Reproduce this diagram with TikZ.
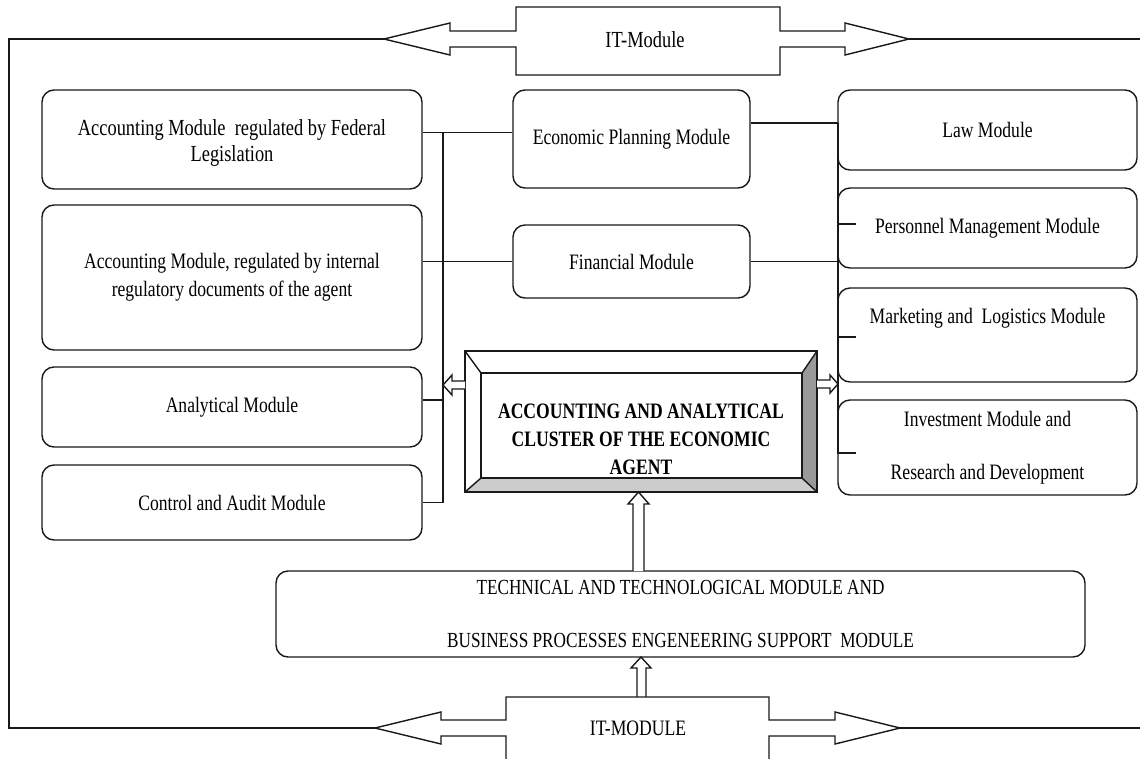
\documentclass[tikz,border=0pt]{standalone}
\usepackage{fontspec}
\setmainfont{Liberation Serif}[FakeStretch=0.8]
\begin{document}
\begin{tikzpicture}[x=1pt,y=-1pt,
  ln/.style={line width=1.4pt, draw=black!90},
  frame/.style={line width=2pt, draw=black!90},
  mod/.style={draw=black!90, line width=1.4pt, rounded corners=12pt, inner sep=0pt, align=center,
     font=\fontsize{22}{26}\selectfont},
  txt/.style={inner sep=0pt, align=center, font=\fontsize{22}{26}\selectfont},
  hollow/.style={line width=1.4pt, draw=black!90, fill=white, line join=miter}
]
\useasboundingbox (0,0) rectangle (1140,758);
\clip (0,0) rectangle (1140,758);

% ---------- left column ----------
\node[mod, minimum width=380pt, minimum height=99pt, font=\fontsize{23}{26}\selectfont] (fed) at (232,139.5)
  {\rule{0pt}{22pt}Accounting Module\ \ regulated by Federal\\Legislation};
\node[mod, minimum width=380pt, minimum height=145pt] (int) at (232,277.5)
  {Accounting Module, regulated by internal\\[2pt]regulatory documents of the agent};
\node[mod, minimum width=380pt, minimum height=80pt] (ana) at (232,407) {Analytical Module};
\node[mod, minimum width=380pt, minimum height=75pt] (ctl) at (232,502.5) {Control and Audit Module};

% ---------- middle column ----------
\node[mod, minimum width=237pt, minimum height=98pt] (plan) at (631.5,139) {Economic Planning Module};
\node[mod, minimum width=237pt, minimum height=73pt] (fin) at (631.5,261.5) {Financial Module};

% ---------- right column ----------
\node[mod, minimum width=299pt, minimum height=80pt] (law) at (987.5,130) {Law Module};
\node[mod, minimum width=299pt, minimum height=80pt] (pers) at (987.5,228) {Personnel Management Module};
\node[mod, minimum width=299pt, minimum height=94pt] (mkt) at (987.5,335) {};
\node[txt] (mkttxt) at (987.5,318) {Marketing and\ \ Logistics Module};
\node[mod, minimum width=299pt, minimum height=95pt] (inv) at (987.5,447.5)
  {Investment Module and\\[27pt]Research and Development};

% ---------- technical module ----------
\node[mod, minimum width=809pt, minimum height=86pt, font=\fontsize{21.5}{26}\selectfont] (tech) at (680.5,614)
  {TECHNICAL AND TECHNOLOGICAL MODULE AND\\[27pt]BUSINESS PROCESSES ENGENEERING SUPPORT\ \ MODULE};

% ---------- cluster (bevelled box) ----------
\node[minimum width=352pt, minimum height=141pt, inner sep=0pt] (clu) at (641,421.5) {};
\fill[black!40] (817,351) -- (817,492) -- (802,478) -- (802,373) -- cycle;
\fill[black!20] (465,492) -- (817,492) -- (802,478) -- (481,478) -- cycle;
\draw[ln] (465,351) rectangle (817,492);
\draw[ln] (481,373) rectangle (802,478);
\draw[ln] (465,351) -- (481,373) (817,351) -- (802,373)
          (465,492) -- (481,478) (817,492) -- (802,478);
\node[txt, font=\fontsize{22}{28}\selectfont\bfseries] (clutxt) at (641,439)
  {ACCOUNTING AND ANALYTICAL\\CLUSTER OF THE ECONOMIC\\AGENT};

% ---------- connectors left ----------
\coordinate (vlt) at (443,132.5);
\coordinate (vlb) at (443,502.5);
\draw[ln] (vlt) -- (vlb);
\draw[ln] ([yshift=7pt]fed.east) -- ([yshift=6.5pt]plan.west);
\draw[ln] (int.east |- fin.west) -- (fin.west);
\draw[ln] ([yshift=7pt]ana.east) -- ([yshift=7pt]ana.east -| vlt);
\draw[ln] (ctl.east) -- (ctl.east -| vlt);

% ---------- connectors right ----------
\coordinate (vrt) at (838,123);
\coordinate (vrb) at (838,453);
\draw[ln] (vrt) -- (vrb);
\draw[ln] ([yshift=16pt]plan.east) -- ([yshift=16pt]plan.east -| vrt);
\draw[ln] (fin.east) -- (fin.east -| vrt);
\draw[ln] ([yshift=4pt]pers.west) -- ++(19,0);
\draw[ln] ([yshift=-2pt]mkt.west) -- ++(19,0);
\draw[ln] ([yshift=-5.5pt]inv.west) -- ++(19,0);

% ---------- hollow arrows from cluster ----------
\draw[hollow] (465,381) -- (452,381) -- (452,375) -- (443,385) -- (452,395) -- (452,389) -- (465,389);
\draw[hollow] (817,380) -- (830,380) -- (830,375) -- (838,384) -- (830,393) -- (830,388) -- (817,388);
\draw[hollow] (633,571) -- (633,504) -- (628,504) -- (638.5,492) -- (649,504) -- (644,504) -- (644,571);
\draw[hollow] (637,697) -- (637,668) -- (631,668) -- (641,657) -- (651,668) -- (646,668) -- (646,697);

% ---------- top IT module ----------
\draw[hollow] (516,7) -- (780,7) -- (780,31) -- (845,31) -- (845,23) -- (909,39) -- (845,55)
  -- (845,47) -- (780,47) -- (780,75) -- (516,75) -- (516,47) -- (450,47) -- (450,55)
  -- (384,39) -- (450,23) -- (450,31) -- (516,31) -- cycle;
\node[txt, font=\fontsize{23}{26}\selectfont] (ittop) at (645,40) {IT-Module};

% ---------- bottom IT module ----------
\draw[hollow] (506,770) -- (506,736) -- (441,736) -- (441,744) -- (375,728) -- (441,712)
  -- (441,720) -- (506,720) -- (506,697) -- (769,697) -- (769,720) -- (835,720) -- (835,712)
  -- (900,728) -- (835,744) -- (835,736) -- (769,736) -- (769,770);
\node[txt] (itbot) at (638,728) {IT-MODULE};

% ---------- outer frame ----------
\coordinate (tl) at (384,39);
\coordinate (tr) at (909,39);
\coordinate (bl) at (375,728);
\coordinate (br) at (900,728);
\draw[frame] (tl) -- (9,39) -- (9,728) -- (bl);
\draw[frame] (tr) -- (1140,39);
\draw[frame] (br) -- (1140,728);
\end{tikzpicture}
\end{document}
